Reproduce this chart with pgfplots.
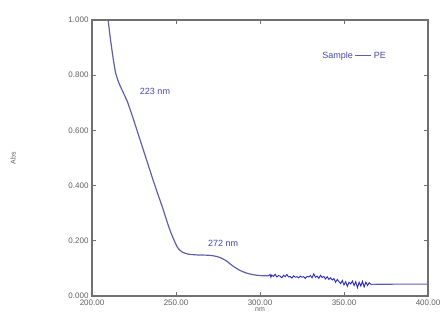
\documentclass[border=0pt]{standalone}
\usepackage{pgfplots}
\pgfplotsset{compat=1.18}
\usepackage{fontspec}
\setmainfont{Liberation Sans}
\definecolor{curve}{HTML}{5F5FAA}
\definecolor{noise}{HTML}{2828C0}
\definecolor{lbl}{HTML}{4545B0}
\definecolor{axgray}{HTML}{707070}
\definecolor{tickgray}{HTML}{606060}
\begin{document}
\begin{tikzpicture}[x=1pt,y=1pt]
\useasboundingbox (-92,-24) rectangle (354,296);
\begin{axis}[
  name=ax,
  at={(0,0)}, anchor=south west,
  scale only axis, width=336pt, height=276pt,
  xmin=200, xmax=400, ymin=0, ymax=1,
  xtick={200,250,300,350,400},
  ytick={0,0.2,0.4,0.6,0.8,1},
  tick align=inside, major tick length=4pt,
  axis line style={axgray, line width=1.5pt},
  every tick/.style={axgray, line width=1pt},
  tick label style={font=\fontsize{8}{9}\selectfont, text=tickgray},
  /pgf/number format/assume math mode=true,
  xticklabel style={/pgf/number format/.cd, fixed, fixed zerofill, precision=2},
  yticklabel style={/pgf/number format/.cd, fixed, fixed zerofill, precision=3},
  scaled ticks=false,
  xlabel={nm}, ylabel={Abs},
  xlabel style={font=\fontsize{7}{8}\selectfont, text=tickgray, yshift=4pt},
  ylabel style={font=\fontsize{7}{8}\selectfont, text=tickgray, yshift=46pt},
  clip=true,
]
\addplot[curve, line width=1.2pt, smooth, tension=0.4] coordinates {
(209.2,1.02) (211,0.93) (212.5,0.865) (214,0.81) (215.8,0.775) (218,0.745)
(221,0.705) (223.8,0.656) (226.8,0.60) (230,0.54) (234.5,0.455) (238,0.39)
(242,0.32) (246,0.245) (249,0.20) (251,0.175) (253.5,0.16) (257,0.152)
(262,0.149) (268,0.148) (272,0.146) (276,0.14) (280,0.127) (284,0.108)
(288,0.093) (292,0.083) (296,0.077) (300,0.074) (305,0.073)
};
\addplot[noise, line width=0.9pt] coordinates {
(305,0.073) (306,0.078) (306.5,0.068) (307,0.076) (308,0.071) (309,0.079)
(310,0.069) (311,0.074) (312,0.072) (313,0.066) (314,0.075) (315,0.070)
(316,0.078) (317,0.069) (318,0.071) (319,0.065) (320,0.073) (321,0.068)
(322,0.070) (323,0.066) (324,0.072) (325,0.068) (326,0.070) (327,0.064)
(328,0.071) (329,0.069) (330,0.074) (331,0.066) (332,0.080) (333,0.068)
(334,0.072) (335,0.064) (336,0.075) (337,0.067) (338,0.071) (339,0.062)
(340,0.070) (341,0.060) (342,0.066) (343,0.058) (344,0.063) (345,0.050)
(346,0.060) (347,0.052) (348,0.045) (349,0.056) (350,0.040) (351,0.052)
(352,0.035) (353,0.050) (354,0.044) (355,0.054) (356,0.038) (357,0.052)
(358,0.030) (359,0.050) (360,0.036) (361,0.053) (362,0.033) (363,0.050)
(364,0.038) (365,0.048) (366,0.042)
};
\addplot[curve, line width=1.2pt] coordinates {
(366,0.042) (380,0.043) (400,0.043)
};
\node[text=lbl, font=\fontsize{9}{10}\selectfont] at (axis cs:237.5,0.74) {223 nm};
\node[text=lbl, font=\fontsize{9}{10}\selectfont] at (axis cs:278,0.19) {272 nm};
\node[text=lbl, font=\fontsize{9}{10}\selectfont] at (axis cs:356,0.87) {Sample \raisebox{0.6ex}{\color{curve}\rule{16pt}{0.8pt}} PE};
\end{axis}
\draw[axgray, line width=1.5pt] (ax.south west) rectangle (ax.north east);
\end{tikzpicture}
\end{document}
